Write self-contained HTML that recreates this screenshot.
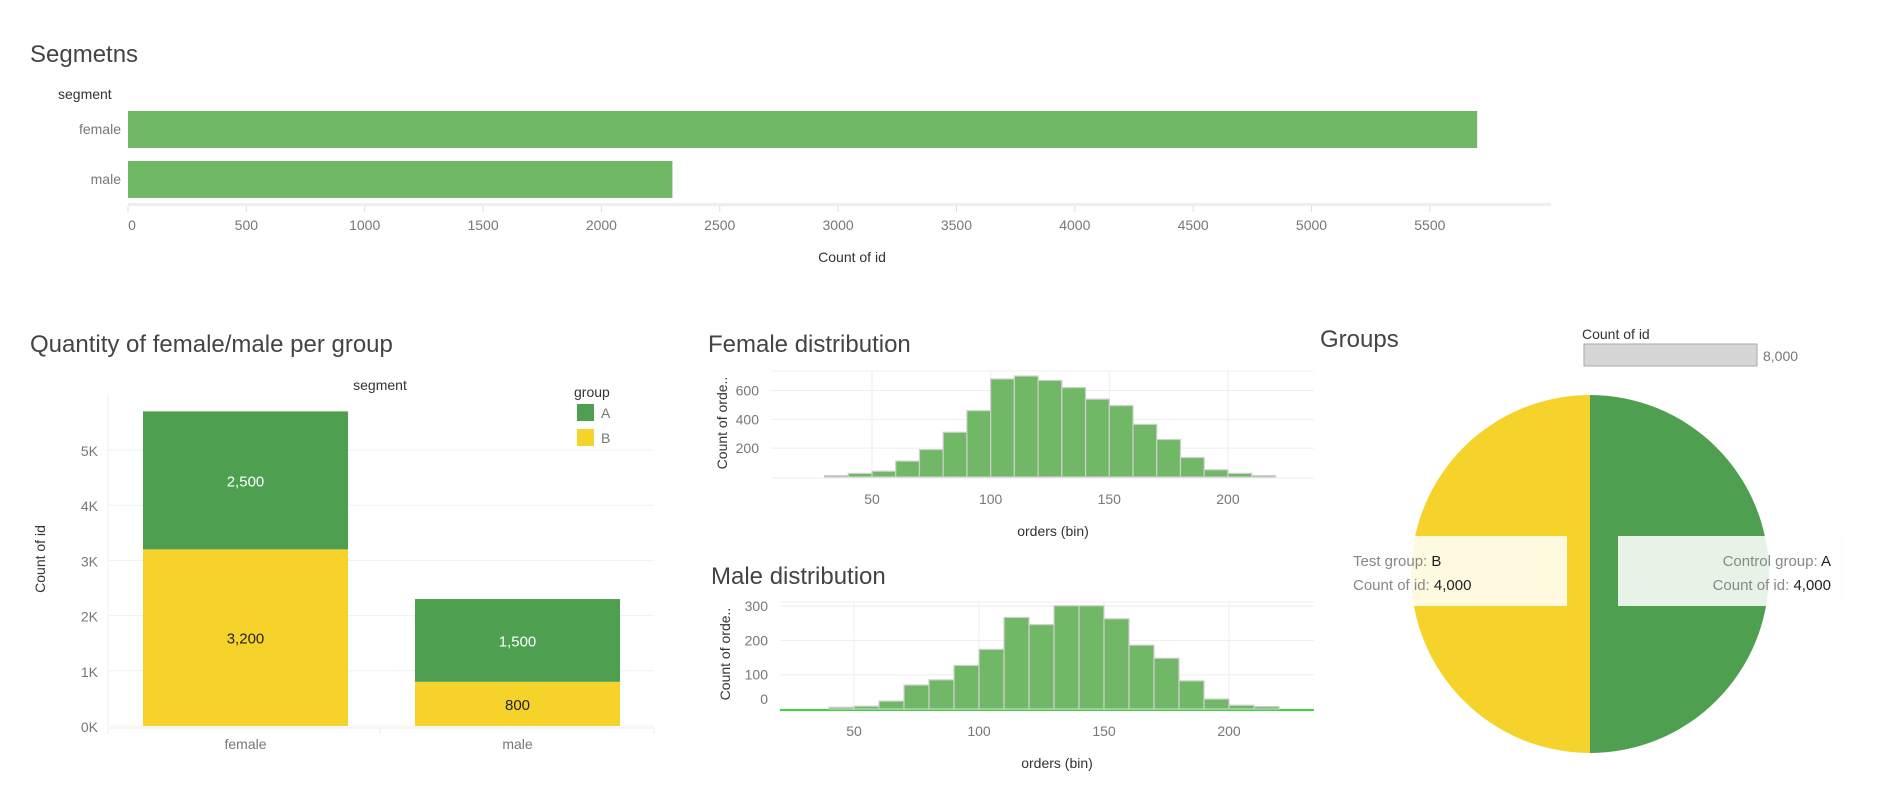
<!DOCTYPE html>
<html><head><meta charset="utf-8"><style>
html,body{margin:0;padding:0;background:#fff;width:1880px;height:794px;overflow:hidden}
svg{font-family:"Liberation Sans",sans-serif;display:block}
.t{font-size:24px;fill:#444;font-weight:300}
.tk{font-size:14px;fill:#777}
.ax{font-size:14px;fill:#333}
</style></head><body>
<svg id="s" width="1880" height="794">
<text class="t" x="30" y="62">Segmetns</text>
<text class="ax" x="58" y="99">segment</text>
<text class="ax" x="852" y="262" text-anchor="middle">Count of id</text>
<text class="t" x="30" y="352">Quantity of female/male per group</text>
<text class="ax" x="380" y="390" text-anchor="middle">segment</text>
<text class="ax" x="45" y="559" text-anchor="middle" transform="rotate(-90 45 559)">Count of id</text>
<text class="ax" x="574" y="397">group</text>
<rect x="577" y="404" width="17" height="17" fill="#4e9f50"/>
<text class="tk" x="601" y="418">A</text>
<rect x="577" y="429" width="17" height="17" fill="#f6d32b"/>
<text class="tk" x="601" y="443">B</text>
<text class="t" x="708" y="352">Female distribution</text>
<text class="ax" x="1053" y="536" text-anchor="middle">orders (bin)</text>
<text class="ax" x="727" y="423" text-anchor="middle" transform="rotate(-90 727 423)">Count of orde..</text>
<text class="t" x="711" y="584">Male distribution</text>
<text class="ax" x="1057" y="768" text-anchor="middle">orders (bin)</text>
<text class="ax" x="730" y="654" text-anchor="middle" transform="rotate(-90 730 654)">Count of orde..</text>
<text class="t" x="1320" y="347">Groups</text>
<text class="ax" x="1582" y="339">Count of id</text>
<rect x="1584" y="344" width="173" height="22" fill="#d6d6d6" stroke="#aaa" stroke-width="1"/>
<text class="tk" x="1763" y="361">8,000</text>
<g id="g1"></g><g id="g2"></g><g id="g3"></g><g id="g4"></g><g id="g5"></g>
</svg>
<script>
// Segments bar chart data
const segCats = ["female", "male"];
const segVals = [5700, 2300];
const segTicks = [0,500,1000,1500,2000,2500,3000,3500,4000,4500,5000,5500];
// Stacked data
const stackCats = ["female", "male"];
const stackA = [2500, 1500];
const stackB = [3200, 800];
const stackTicks = [0,1000,2000,3000,4000,5000];
// Female histogram
const femaleBins = [30,40,50,60,70,80,90,100,110,120,130,140,150,160,170,180,190,200,210];
const femaleCounts = [10,25,40,110,190,310,460,680,700,670,620,540,495,365,260,135,50,25,10];
const femaleYTicks = [200,400,600];
// Male histogram
const maleBins = [40,50,60,70,80,90,100,110,120,130,140,150,160,170,180,190,200,210];
const maleCounts = [5,8,23,70,85,127,174,267,246,301,301,263,186,148,82,29,11,7];
const maleYTicks = [0,100,200,300];
const xTicks = [50,100,150,200];
// Pie
const pieGroups = ["B","A"];
const pieVals = [4000, 4000];

const NS="http://www.w3.org/2000/svg";
function mk(p,tag,a,txt){const e=document.createElementNS(NS,tag);for(const k in a)e.setAttribute(k,a[k]);if(txt!==undefined)e.textContent=txt;p.appendChild(e);return e;}

// Chart 1
const g1=document.getElementById('g1');
const x1=v=>128+v*0.2367;
mk(g1,'rect',{x:128,y:203,width:1423,height:3,fill:'#eee'});
segTicks.forEach(t=>{
 const l=mk(g1,'line',{x1:x1(t),x2:x1(t),y1:206,y2:212,stroke:'#ddd'});
 
 
 const e=mk(g1,'text',{x:x1(t)+(t===0?4:0),y:230,'text-anchor':'middle',class:'tk'},t);
 
 
});
segCats.forEach((c,i)=>{
 const y=111+i*50;
 const r=mk(g1,'rect',{x:128,y:y,width:x1(segVals[i])-128,height:37,fill:'#71b866'});
 
 
 const e=mk(g1,'text',{x:121,y:y+23,'text-anchor':'end',class:'tk'},c);
 
 
});

// Chart 2
const g2=document.getElementById('g2');
const y2=v=>726-v*0.0552;
stackTicks.forEach(t=>{
 const l=mk(g2,'line',{x1:108,x2:654,y1:y2(t),y2:y2(t),stroke:'#f0f0f0'});
 
 
 const e=mk(g2,'text',{x:98,y:y2(t)+6,'text-anchor':'end',class:'tk'},(t/1000)+'K');
 
 
});
mk(g2,'line',{x1:108,x2:108,y1:395,y2:726,stroke:'#f0f0f0'});
mk(g2,'line',{x1:108,x2:654,y1:728,y2:728,stroke:'#eee'});
[108,380,654].forEach(x=>mk(g2,'line',{x1:x,x2:x,y1:728,y2:734,stroke:'#eee'}));
stackCats.forEach((c,i)=>{
 const x=143+i*272, w=205;
 const rb=mk(g2,'rect',{x:x,y:y2(stackB[i]),width:w,height:726-y2(stackB[i]),fill:'#f6d32b'});
 
 
 const ra=mk(g2,'rect',{x:x,y:y2(stackB[i]+stackA[i]),width:w,height:y2(stackB[i])-y2(stackB[i]+stackA[i]),fill:'#4e9f50'});
 
 
 const lb=mk(g2,'text',{x:x+w/2,y:(726+y2(stackB[i]))/2+6,'text-anchor':'middle',style:'font-size:15px;fill:#222'},stackB[i].toLocaleString('en-US'));
 
 
 const la=mk(g2,'text',{x:x+w/2,y:(y2(stackB[i])+y2(stackB[i]+stackA[i]))/2+6,'text-anchor':'middle',style:'font-size:15px;fill:#fff'},stackA[i].toLocaleString('en-US'));
 
 
 const cl=mk(g2,'text',{x:x+w/2,y:749,'text-anchor':'middle',class:'tk'},c);
 
 
});

// Histograms
function hist(g,bins,counts,yt,xs,ys,left,right,top,base,prefix,baseColor,zeroOff){
 yt.forEach(t=>{
  if(t>0){const l=mk(g,'line',{x1:left,x2:right,y1:ys(t),y2:ys(t),stroke:'#eee'});
  
  }
  const e=mk(g,'text',{x:left-12,y:ys(t)+5-(t===0?zeroOff:0),'text-anchor':'end',class:'tk'},t);
  
  
 });
 mk(g,'line',{x1:left,x2:right,y1:top,y2:top,stroke:'#f2f2f2'});
 xTicks.forEach(t=>{
  const l=mk(g,'line',{x1:xs(t),x2:xs(t),y1:top,y2:base,stroke:'#eee'});
  
  
  const e=mk(g,'text',{x:xs(t),y:base+27,'text-anchor':'middle',class:'tk'},t);
  
  
 });
 mk(g,'line',{x1:left,x2:right,y1:base+1,y2:base+1,stroke:baseColor,'stroke-width':baseColor==='#eee'?1:2});
 bins.forEach((b,i)=>{
  const r=mk(g,'rect',{x:xs(b),y:ys(counts[i]),width:xs(b+10)-xs(b),height:base-ys(counts[i]),fill:'#71b866',stroke:'#cfcfcf','stroke-width':1.2});
  
  
 });
}
hist(document.getElementById('g3'),femaleBins,femaleCounts,femaleYTicks,v=>872+(v-50)*2.373,v=>477-v*0.1442,771,1314,371,477,'female','#eee',0);
hist(document.getElementById('g4'),maleBins,maleCounts,maleYTicks,v=>854+(v-50)*2.5,v=>709-v*0.343,780,1314,602,709,'male','#3ad63a',10);

// Pie
const g5=document.getElementById('g5');
const cx=1590,cy=574,R=179;
const tot=pieVals.reduce((a,b)=>a+b,0);
const cols={A:'#4e9f50',B:'#f6d32b'};
mk(g5,'rect',{x:1341,y:536,width:503,height:70,fill:'#f8f8f8'});
let ang=0;
pieGroups.forEach((gname,i)=>{
 const a0=ang, a1=ang+pieVals[i]/tot*2*Math.PI; ang=a1;
 const p=a=>[cx-R*Math.sin(a),cy-R*Math.cos(a)];
 const [sx,sy]=p(a0),[ex,ey]=p(a1);
 const large=(a1-a0)>Math.PI?1:0;
 const s=mk(g5,'path',{d:`M${cx},${cy} L${sx},${sy} A${R},${R} 0 ${large} 0 ${ex},${ey} Z`,fill:cols[gname]});
 
 
});
const tb=mk(g5,'rect',{x:1341,y:536,width:226,height:70,fill:'rgba(255,255,255,0.85)'});


const ta=mk(g5,'rect',{x:1618,y:536,width:226,height:70,fill:'rgba(255,255,255,0.87)'});


const L=[["Test group: ","B",1353,566,"start"],["Count of id: ",pieVals[0].toLocaleString('en-US'),1353,590,"start"],["Control group: ","A",1831,566,"end"],["Count of id: ",pieVals[1].toLocaleString('en-US'),1831,590,"end"]];
L.forEach(l=>{
 const t=mk(g5,'text',{x:l[2],y:l[3],'text-anchor':l[4],style:'font-size:15px;fill:#888'});
 
 
 mk(t,'tspan',{},l[0]);
 mk(t,'tspan',{style:'fill:#222'},l[1]);
});
</script>
</body></html>
